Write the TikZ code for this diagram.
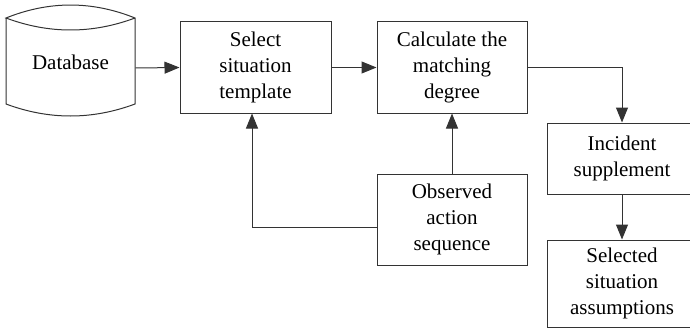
\documentclass[tikz,border=0pt]{standalone}
\usepackage{fontspec}
\setmainfont{Liberation Serif}
\usetikzlibrary{arrows.meta}
\begin{document}
\begin{tikzpicture}[x=1pt,y=-1pt,
  line width=1pt,
  every node/.style={font=\fontsize{21}{26}\selectfont},
  box/.style={draw=black!80, line width=1pt, rectangle, align=center, inner sep=0pt, minimum width=150pt},
  arr/.style={draw=black!80, line width=1pt, -{Triangle[length=15pt,width=12pt]}}
]
\useasboundingbox (0,0) rectangle (690,329);
% database drum
\draw[black!80] (6,18) -- (6,104) .. controls (49,120) and (92,120) .. (135,104) -- (135,18)
  .. controls (92,0.7) and (49,0.7) .. (6,18) .. controls (49,34) and (92,34) .. (135,18);
\node[inner sep=0pt, minimum width=129pt, minimum height=87pt] (db) at (70.5,62) {Database};
\node[box, minimum width=151pt, minimum height=91pt] (sel) at (255.5,67.5) {Select\\situation\\template};
\node[box, minimum height=91pt] (calc) at (452,67.5) {Calculate the\\matching\\degree};
\node[box, minimum height=71pt] (inc) at (622,158.5) {Incident\\supplement};
\node[box, minimum height=87pt] (selas) at (622,283.5) {Selected\\situation\\assumptions};
\node[box, minimum height=91pt] (obs) at (452,219.5) {Observed\\action\\sequence};
\draw[arr] ([yshift=-6pt]db.east) -- (sel.west);
\draw[arr] (sel.east) -- (calc.west);
\draw[arr] (calc.east) -| (inc.north);
\draw[arr] (inc.south) -- (selas.north);
\draw[arr] (obs.north) -- (calc.south);
\draw[arr] ([yshift=-7.5pt]obs.west) -| ([xshift=-3.5pt]sel.south);
\end{tikzpicture}
\end{document}
